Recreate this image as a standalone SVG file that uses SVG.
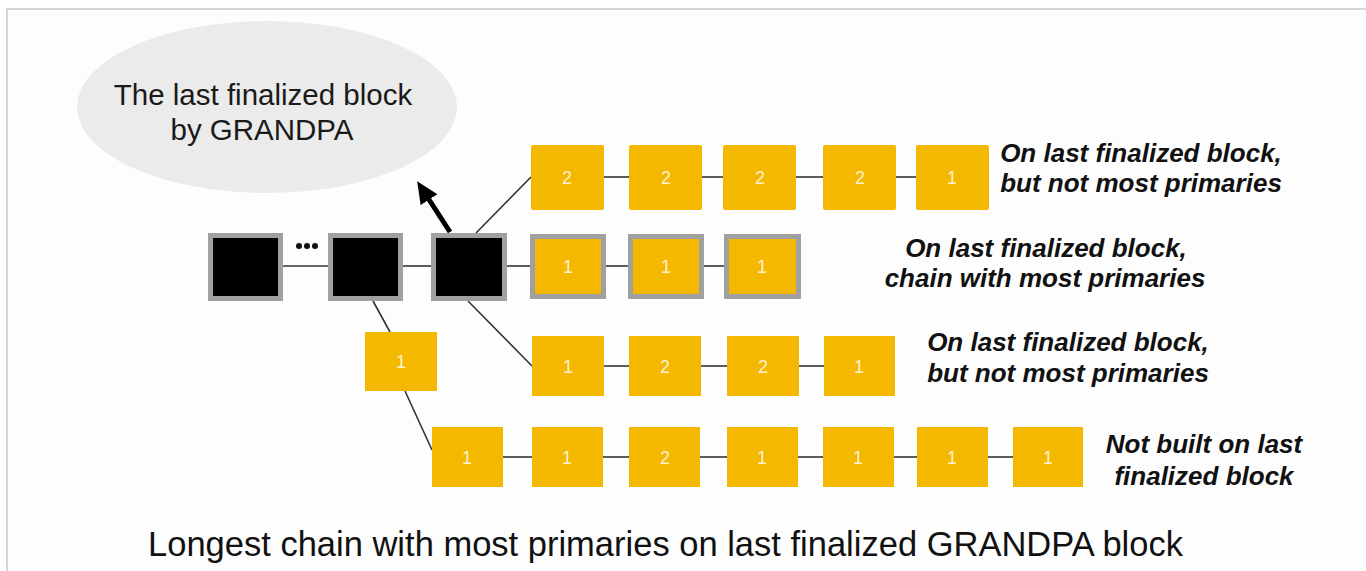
<svg xmlns="http://www.w3.org/2000/svg" width="1366" height="571" viewBox="0 0 1366 571">
<defs>
<style>
.blk{fill:#000;stroke:#a0a0a0;stroke-width:5}
.y{fill:#F5B800}
.yg{fill:#F5B800;stroke:#a0a0a0;stroke-width:5}
.n{font-family:"Liberation Sans",Arial,sans-serif;font-size:18px;fill:#fdf1cf;text-anchor:middle}
.c{stroke:#333;stroke-width:1.6;fill:none}
.lbl{font-family:"Liberation Sans",Arial,sans-serif;font-size:26px;font-weight:bold;font-style:italic;fill:#111;text-anchor:middle}
.el{font-family:"Liberation Sans",Arial,sans-serif;font-size:29.5px;fill:#1a1a1a;text-anchor:middle}
.title{font-family:"Liberation Sans",Arial,sans-serif;font-size:34.5px;fill:#111}
</style>
<marker id="ah" markerUnits="userSpaceOnUse" markerWidth="22" markerHeight="20" viewBox="0 0 22 20" refX="2" refY="10" orient="auto">
<path d="M0,0 L22,10 L0,20 z" fill="#000"/>
</marker>
</defs>
<rect x="0" y="0" width="1366" height="571" fill="#fff"/>
<rect x="7" y="9" width="1359" height="562" fill="#fdfdfd"/>
<path d="M7,571 V9 H1366" fill="none" stroke="#d6d6d6" stroke-width="2"/>

<g id="ellipse">
<ellipse cx="267" cy="107" rx="190" ry="86" fill="#ebebeb"/>
<text class="el" x="263" y="105">The last finalized block</text>
<text class="el" x="262" y="140">by GRANDPA</text>
</g>

<g id="connectors">
<line class="c" x1="283" y1="266" x2="328" y2="266"/>
<line class="c" x1="403" y1="266" x2="431" y2="266"/>
<line class="c" x1="507" y1="266" x2="530" y2="266"/>
<line class="c" x1="476" y1="233" x2="531" y2="177"/>
<line class="c" x1="373" y1="301" x2="390" y2="332"/>
<line class="c" x1="468" y1="301" x2="532" y2="366"/>
<line class="c" x1="405" y1="391" x2="432" y2="450"/>
<line class="c" x1="604" y1="177" x2="629" y2="177"/>
<line class="c" x1="702" y1="177" x2="723" y2="177"/>
<line class="c" x1="796" y1="177" x2="823" y2="177"/>
<line class="c" x1="896" y1="177" x2="916" y2="177"/>
<line class="c" x1="606" y1="266" x2="628" y2="266"/>
<line class="c" x1="704" y1="266" x2="724" y2="266"/>
<line class="c" x1="604" y1="366" x2="629" y2="366"/>
<line class="c" x1="701" y1="366" x2="727" y2="366"/>
<line class="c" x1="799" y1="366" x2="824" y2="366"/>
<line class="c" x1="503" y1="457" x2="532" y2="457"/>
<line class="c" x1="603" y1="457" x2="629" y2="457"/>
<line class="c" x1="700" y1="457" x2="727" y2="457"/>
<line class="c" x1="798" y1="457" x2="823" y2="457"/>
<line class="c" x1="894" y1="457" x2="917" y2="457"/>
<line class="c" x1="988" y1="457" x2="1013" y2="457"/>
<line x1="450" y1="232" x2="428" y2="198" stroke="#000" stroke-width="5" marker-end="url(#ah)"/>
</g>

<g id="finalized-blocks">
<rect class="blk" x="210.5" y="235.5" width="70" height="63"/>
<g id="dots" fill="#111"><circle cx="299" cy="246" r="3"/><circle cx="307" cy="246" r="3"/><circle cx="315" cy="246" r="3"/></g>
<rect class="blk" x="330.5" y="235.5" width="70" height="63"/>
<rect class="blk" x="433.5" y="235.5" width="71" height="63"/>
</g>

<g id="row1">
<rect class="y" x="531" y="145" width="73" height="65" rx="2"/><text class="n" x="567" y="184">2</text>
<rect class="y" x="629" y="145" width="73" height="65" rx="2"/><text class="n" x="666" y="184">2</text>
<rect class="y" x="723" y="145" width="73" height="65" rx="2"/><text class="n" x="760" y="184">2</text>
<rect class="y" x="823" y="145" width="73" height="65" rx="2"/><text class="n" x="860" y="184">2</text>
<rect class="y" x="916" y="145" width="73" height="65" rx="2"/><text class="n" x="952" y="184">1</text>
</g>

<g id="row2">
<rect class="yg" x="532.5" y="236.5" width="71" height="60"/><text class="n" x="568" y="273">1</text>
<rect class="yg" x="630.5" y="236.5" width="71" height="60"/><text class="n" x="666" y="273">1</text>
<rect class="yg" x="726.5" y="236.5" width="72" height="60"/><text class="n" x="762" y="273">1</text>
</g>

<g id="side-block">
<rect class="y" x="365" y="332" width="72" height="59"/><text class="n" x="401" y="368">1</text>
</g>

<g id="row3">
<rect class="y" x="532" y="336" width="72" height="60"/><text class="n" x="568" y="373">1</text>
<rect class="y" x="629" y="336" width="72" height="60"/><text class="n" x="665" y="373">2</text>
<rect class="y" x="727" y="336" width="72" height="60"/><text class="n" x="763" y="373">2</text>
<rect class="y" x="824" y="336" width="71" height="60"/><text class="n" x="859" y="373">1</text>
</g>

<g id="row4">
<rect class="y" x="432" y="427" width="71" height="60"/><text class="n" x="467" y="464">1</text>
<rect class="y" x="532" y="427" width="71" height="60"/><text class="n" x="567" y="464">1</text>
<rect class="y" x="629" y="427" width="71" height="60"/><text class="n" x="665" y="464">2</text>
<rect class="y" x="727" y="427" width="71" height="60"/><text class="n" x="762" y="464">1</text>
<rect class="y" x="823" y="427" width="71" height="60"/><text class="n" x="858" y="464">1</text>
<rect class="y" x="917" y="427" width="71" height="60"/><text class="n" x="952" y="464">1</text>
<rect class="y" x="1013" y="427" width="70" height="60"/><text class="n" x="1048" y="464">1</text>
</g>

<g id="labels">
<text class="lbl" x="1141" y="162">On last finalized block,</text>
<text class="lbl" x="1141" y="192">but not most primaries</text>
<text class="lbl" x="1046" y="257">On last finalized block,</text>
<text class="lbl" x="1045" y="287">chain with most primaries</text>
<text class="lbl" x="1068" y="351">On last finalized block,</text>
<text class="lbl" x="1068" y="382">but not most primaries</text>
<text class="lbl" x="1204" y="453">Not built on last</text>
<text class="lbl" x="1204" y="485">finalized block</text>
</g>

<g id="title">
<text class="title" x="148" y="556" textLength="1035" lengthAdjust="spacingAndGlyphs">Longest chain with most primaries on last finalized GRANDPA block</text>
</g>
</svg>
